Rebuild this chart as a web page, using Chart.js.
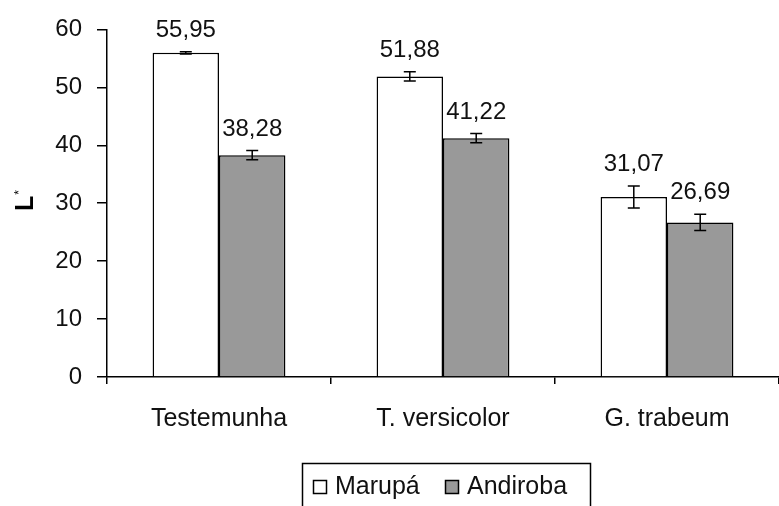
<!DOCTYPE html>
<html>
<head>
<meta charset="utf-8">
<script src="https://cdn.jsdelivr.net/npm/chart.js@4"></script>
<style>
  body { margin: 0; background: #fff; }
  #wrap { width: 779px; height: 506px; }
</style>
</head>
<body>
<div id="wrap"><canvas id="myChart"></canvas></div>
<script>
const categories = ["Testemunha", "T. versicolor", "G. trabeum"];
const seriesNames = ["Marupá", "Andiroba"];
const marupa = [55.95, 51.88, 31.07];
const andiroba = [38.28, 41.22, 26.69];
const marupaErr = [0.2, 0.8, 1.9];
const andirobaErr = [0.8, 0.8, 1.4];
const yTicks = [0, 10, 20, 30, 40, 50, 60];

const FONT = '"Liberation Sans", Arial, sans-serif';

// error bars, value labels, legend box and y title
const extras = {
    id: 'extras',
    afterDatasetsDraw(chart) {
        const ctx = chart.ctx;
        const y = chart.scales.y;
        const errs = [marupaErr, andirobaErr];
        ctx.save();
        chart.data.datasets.forEach((ds, i) => {
            const meta = chart.getDatasetMeta(i);
            meta.data.forEach((bar, j) => {
                const v = ds.data[j];
                const e = errs[i][j];
                const top = y.getPixelForValue(v + e);
                const bot = y.getPixelForValue(v - e);
                ctx.strokeStyle = '#000';
                ctx.lineWidth = 1.5;
                ctx.beginPath();
                ctx.moveTo(bar.x, top); ctx.lineTo(bar.x, bot);
                ctx.moveTo(bar.x - 6, top); ctx.lineTo(bar.x + 6, top);
                ctx.moveTo(bar.x - 6, bot); ctx.lineTo(bar.x + 6, bot);
                ctx.stroke();
                ctx.fillStyle = '#111';
                ctx.font = '24px ' + FONT;
                ctx.textAlign = 'center';
                ctx.textBaseline = 'alphabetic';
                ctx.fillText(v.toFixed(2).replace('.', ','), bar.x, top - 15);
            });
        });
        ctx.restore();
    },
    afterDraw(chart) {
        const ctx = chart.ctx;
        ctx.save();
        // legend
        ctx.strokeStyle = '#000';
        ctx.lineWidth = 1.5;
        ctx.strokeRect(302.5, 463.5, 288, 60);
        const sq = [313, 445];
        const tx = [335, 467];
        ctx.font = '25px ' + FONT;
        ctx.textAlign = 'left';
        ctx.textBaseline = 'alphabetic';
        chart.data.datasets.forEach((ds, i) => {
            ctx.fillStyle = ds.backgroundColor;
            ctx.fillRect(sq[i], 480, 13, 13);
            ctx.strokeRect(sq[i] + 0.5, 480.5, 13, 13);
            ctx.fillStyle = '#111';
            ctx.fillText(ds.label, tx[i], 494);
        });
        // y title L*
        ctx.translate(33, 211);
        ctx.rotate(-Math.PI / 2);
        ctx.fillStyle = '#000';
        ctx.font = 'bold 25px ' + FONT;
        ctx.fillText('L', 0, 0);
        const w = ctx.measureText('L').width;
        ctx.font = '12px ' + FONT;
        ctx.fillText('*', w + 1, -10);
        ctx.restore();
    }
};

const data = {
    labels: categories,
    datasets: [{
        label: seriesNames[0],
        data: marupa,
        backgroundColor: '#ffffff',
        borderColor: '#000',
        borderWidth: 1.5
    }, {
        label: seriesNames[1],
        data: andiroba,
        backgroundColor: '#999999',
        borderColor: '#000',
        borderWidth: 1.5
    }]
};

const config = {
    type: 'bar',
    data: data,
    options: {
        responsive: true,
        maintainAspectRatio: false,
        animation: false,
        layout: { padding: { top: 23, left: 0, right: 0, bottom: 0 } },
        datasets: {
            bar: { barPercentage: 1, categoryPercentage: 0.593 }
        },
        scales: {
            x: {
                afterFit: (s) => { s.height = 129; },
                border: { color: '#000', width: 1.5 },
                grid: {
                    offset: true,
                    drawOnChartArea: false,
                    tickLength: 7,
                    color: '#000',
                    lineWidth: 1.5
                },
                ticks: {
                    color: '#111',
                    font: { family: FONT, size: 25 },
                    padding: 20
                }
            },
            y: {
                min: 0,
                max: 60,
                afterFit: (s) => { s.width = 107; },
                afterBuildTicks: (s) => { s.ticks = yTicks.map(v => ({ value: v })); },
                border: { color: '#000', width: 1.5 },
                grid: {
                    drawOnChartArea: false,
                    tickLength: 10,
                    color: '#000',
                    lineWidth: 1.5
                },
                ticks: {
                    color: '#111',
                    font: { family: FONT, size: 24 },
                    padding: 15
                }
            }
        },
        plugins: {
            legend: { display: false },
            tooltip: { enabled: false }
        }
    },
    plugins: [extras]
};

new Chart(document.getElementById('myChart'), config);
</script>
</body>
</html>
